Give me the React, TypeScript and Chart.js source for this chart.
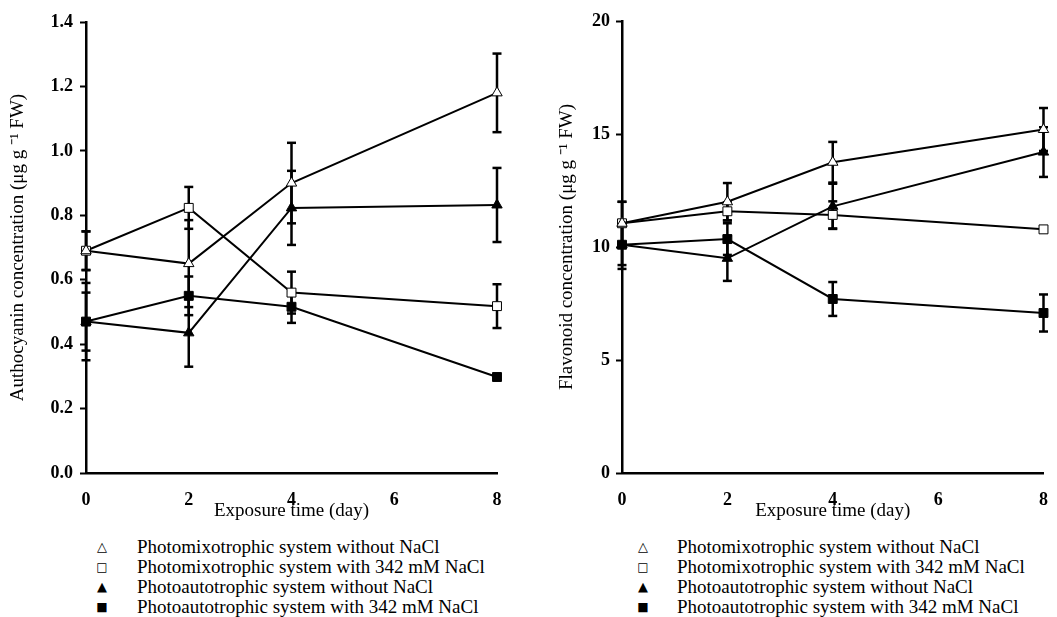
import React, { useEffect, useRef } from 'react';
import { Chart, registerables } from 'chart.js';

Chart.register(...registerables);

const FONT = "'Liberation Serif', 'Times New Roman', Times, serif";

// ---- shared categories ----
const days = [0, 2, 4, 8];
const xTickLabels = ['0', '2', '4', '6', '8'];
const seriesLabels = [
  'Photomixotrophic system without NaCl',
  'Photomixotrophic system with 342 mM NaCl',
  'Photoautotrophic system without NaCl',
  'Photoautotrophic system with 342 mM NaCl',
];
const legendGlyphs = ['△', '□', '▲', '■'];

// ---- anthocyanin panel ----
const anthoTitle = 'Authocyanin concentration (μg g ⁻¹ FW)';
const anthoYTicks = ['0.0', '0.2', '0.4', '0.6', '0.8', '1.0', '1.2', '1.4'];
const anthoMixNoNaCl = [0.69, 0.65, 0.9, 1.18];
const anthoMixNoNaClErr = [0.06, 0.135, 0.125, 0.122];
const anthoMixNaCl = [0.69, 0.823, 0.56, 0.518];
const anthoMixNaClErr = [0.06, 0.065, 0.065, 0.068];
const anthoAutoNoNaCl = [0.47, 0.435, 0.823, 0.832];
const anthoAutoNoNaClErr = [0.12, 0.105, 0.115, 0.115];
const anthoAutoNaCl = [0.47, 0.55, 0.516, 0.298];
const anthoAutoNaClErr = [0.09, 0.06, 0.05, 0];

// ---- flavonoid panel ----
const flavoTitle = 'Flavonoid concentration (μg g ⁻¹ FW)';
const flavoYTicks = ['0', '5', '10', '15', '20'];
const flavoMixNoNaCl = [11.05, 12.0, 13.75, 15.2];
const flavoMixNoNaClErr = [0.95, 0.83, 0.9, 0.95];
const flavoMixNaCl = [11.05, 11.58, 11.42, 10.78];
const flavoMixNaClErr = [0.95, 0.4, 0.6, 0];
const flavoAutoNoNaCl = [10.1, 9.5, 11.8, 14.2];
const flavoAutoNoNaClErr = [1.07, 1.0, 1.0, 1.1];
const flavoAutoNaCl = [10.1, 10.35, 7.7, 7.08];
const flavoAutoNaClErr = [0.9, 0.7, 0.75, 0.82];

const xTitle = 'Exposure time (day)';

const markerStyles = [
  { pointStyle: 'triangle', fill: '#ffffff', radius: 6 },
  { pointStyle: 'rect', fill: '#ffffff', radius: 6.3 },
  { pointStyle: 'triangle', fill: '#000000', radius: 6 },
  { pointStyle: 'rect', fill: '#000000', radius: 6.3 },
];

function buildDatasets(values: number[][], errs: number[][]) {
  const ds: any[] = [];
  values.forEach((vals, s) => {
    const errData: any[] = [];
    vals.forEach((v, i) => {
      const e = errs[s][i];
      if (e > 0) {
        errData.push({ x: days[i], y: v - e }, { x: days[i], y: v + e }, { x: days[i], y: null });
      }
    });
    ds.push({
      label: seriesLabels[s] + ' (error)',
      data: errData,
      borderColor: '#000',
      borderWidth: 2.5,
      pointStyle: 'line',
      pointRadius: 4.5,
      pointBorderWidth: 2.5,
      pointBorderColor: '#000',
      pointBackgroundColor: '#000',
      spanGaps: false,
      clip: false,
      order: 2,
    });
  });
  values.forEach((vals, s) => {
    const m = markerStyles[s];
    ds.push({
      label: seriesLabels[s],
      data: vals.map((v, i) => ({ x: days[i], y: v })),
      borderColor: '#000',
      borderWidth: 2,
      pointStyle: m.pointStyle,
      pointRadius: m.radius,
      pointBackgroundColor: m.fill,
      pointBorderColor: '#000',
      pointBorderWidth: 1,
      clip: false,
      order: 1,
    });
  });
  return ds;
}

function makeConfig(opts: {
  values: number[][];
  errs: number[][];
  yMax: number;
  yStep: number;
  yTicks: string[];
  yTitle: string;
  yWidth: number;
  yTitlePad: number;
  yTickPad: number;
  padTop: number;
  padRight: number;
}) {
  return {
    type: 'line',
    data: { datasets: buildDatasets(opts.values, opts.errs) },
    options: {
      responsive: false,
      animation: false,
      events: [],
      layout: { padding: { top: opts.padTop, right: opts.padRight, bottom: 0, left: 0 } },
      plugins: { legend: { display: false }, tooltip: { enabled: false } },
      scales: {
        x: {
          type: 'linear',
          min: 0,
          max: 8,
          afterFit: (s: any) => {
            s.height = 57;
          },
          ticks: {
            stepSize: 2,
            padding: 9,
            color: '#000',
            font: { family: FONT, size: 18, weight: 'bold' },
            callback: (v: any) => xTickLabels.find((l) => Number(l) === Number(v)) ?? '',
          },
          grid: { display: false },
          border: { display: true, color: '#000', width: 2.5 },
          title: {
            display: true,
            text: xTitle,
            color: '#000',
            font: { family: FONT, size: 19 },
            padding: { top: 0, bottom: 7.6 },
          },
        },
        y: {
          type: 'linear',
          min: 0,
          max: opts.yMax,
          afterFit: (s: any) => {
            s.width = opts.yWidth;
          },
          ticks: {
            stepSize: opts.yStep,
            padding: opts.yTickPad,
            color: '#000',
            font: { family: FONT, size: 18, weight: 'bold' },
            callback: (v: any) =>
              opts.yTicks.find((l) => Math.abs(Number(l) - Number(v)) < 1e-6) ?? '',
          },
          grid: {
            display: true,
            drawOnChartArea: false,
            drawTicks: true,
            tickLength: 6,
            tickColor: '#000',
            tickWidth: 2,
            color: '#000',
          },
          border: { display: true, color: '#000', width: 2.5 },
          title: {
            display: true,
            text: opts.yTitle,
            color: '#000',
            font: { family: FONT, size: 19 },
            padding: { top: opts.yTitlePad, bottom: 0 },
          },
        },
      },
    },
  };
}

function ChartCanvas({ config, left, width, height }: any) {
  const ref = useRef<HTMLCanvasElement | null>(null);
  useEffect(() => {
    if (!ref.current) return;
    const chart = new Chart(ref.current, config as any);
    return () => chart.destroy();
  }, []);
  return (
    <canvas
      ref={ref}
      width={width}
      height={height}
      style={{ position: 'absolute', left, top: 0, width, height, display: 'block' }}
    />
  );
}

function Legend({ markerX, textX }: { markerX: number; textX: number }) {
  const rowCenters = [547, 567, 587, 607];
  return (
    <>
      {seriesLabels.map((label, i) => (
        <div
          key={label}
          style={{
            position: 'absolute',
            top: rowCenters[i] - 10,
            left: 0,
            height: 20,
            lineHeight: '20px',
            width: 1,
          }}
        >
          <span
            style={{
              position: 'absolute',
              left: markerX - 8,
              width: 16,
              textAlign: 'center',
              fontFamily: "'DejaVu Sans', sans-serif",
              fontSize: i % 2 === 1 ? 12 : 13,
              color: '#000',
            }}
          >
            {legendGlyphs[i]}
          </span>
          <span
            style={{
              position: 'absolute',
              left: textX,
              whiteSpace: 'nowrap',
              fontFamily: FONT,
              fontSize: 19,
              color: '#000',
            }}
          >
            {label}
          </span>
        </div>
      ))}
    </>
  );
}

export default function App() {
  const anthoConfig = makeConfig({
    values: [anthoMixNoNaCl, anthoMixNaCl, anthoAutoNoNaCl, anthoAutoNaCl],
    errs: [anthoMixNoNaClErr, anthoMixNaClErr, anthoAutoNoNaClErr, anthoAutoNaClErr],
    yMax: 1.4,
    yStep: 0.2,
    yTicks: anthoYTicks,
    yTitle: anthoTitle,
    yWidth: 86,
    yTitlePad: 6.6,
    yTickPad: 7,
    padTop: 22,
    padRight: 33,
  });
  const flavoConfig = makeConfig({
    values: [flavoMixNoNaCl, flavoMixNaCl, flavoAutoNoNaCl, flavoAutoNaCl],
    errs: [flavoMixNoNaClErr, flavoMixNaClErr, flavoAutoNoNaClErr, flavoAutoNaClErr],
    yMax: 20,
    yStep: 5,
    yTicks: flavoYTicks,
    yTitle: flavoTitle,
    yWidth: 92,
    yTitlePad: 25.6,
    yTickPad: 6,
    padTop: 21,
    padRight: 11,
  });
  return (
    <div
      style={{
        position: 'absolute',
        left: 0,
        top: 0,
        width: 1057,
        height: 617,
        background: '#fff',
        overflow: 'hidden',
      }}
    >
      <ChartCanvas config={anthoConfig} left={0} width={530} height={530} />
      <ChartCanvas config={flavoConfig} left={530} width={527} height={530} />
      <Legend markerX={102} textX={137} />
      <Legend markerX={643} textX={677} />
    </div>
  );
}
